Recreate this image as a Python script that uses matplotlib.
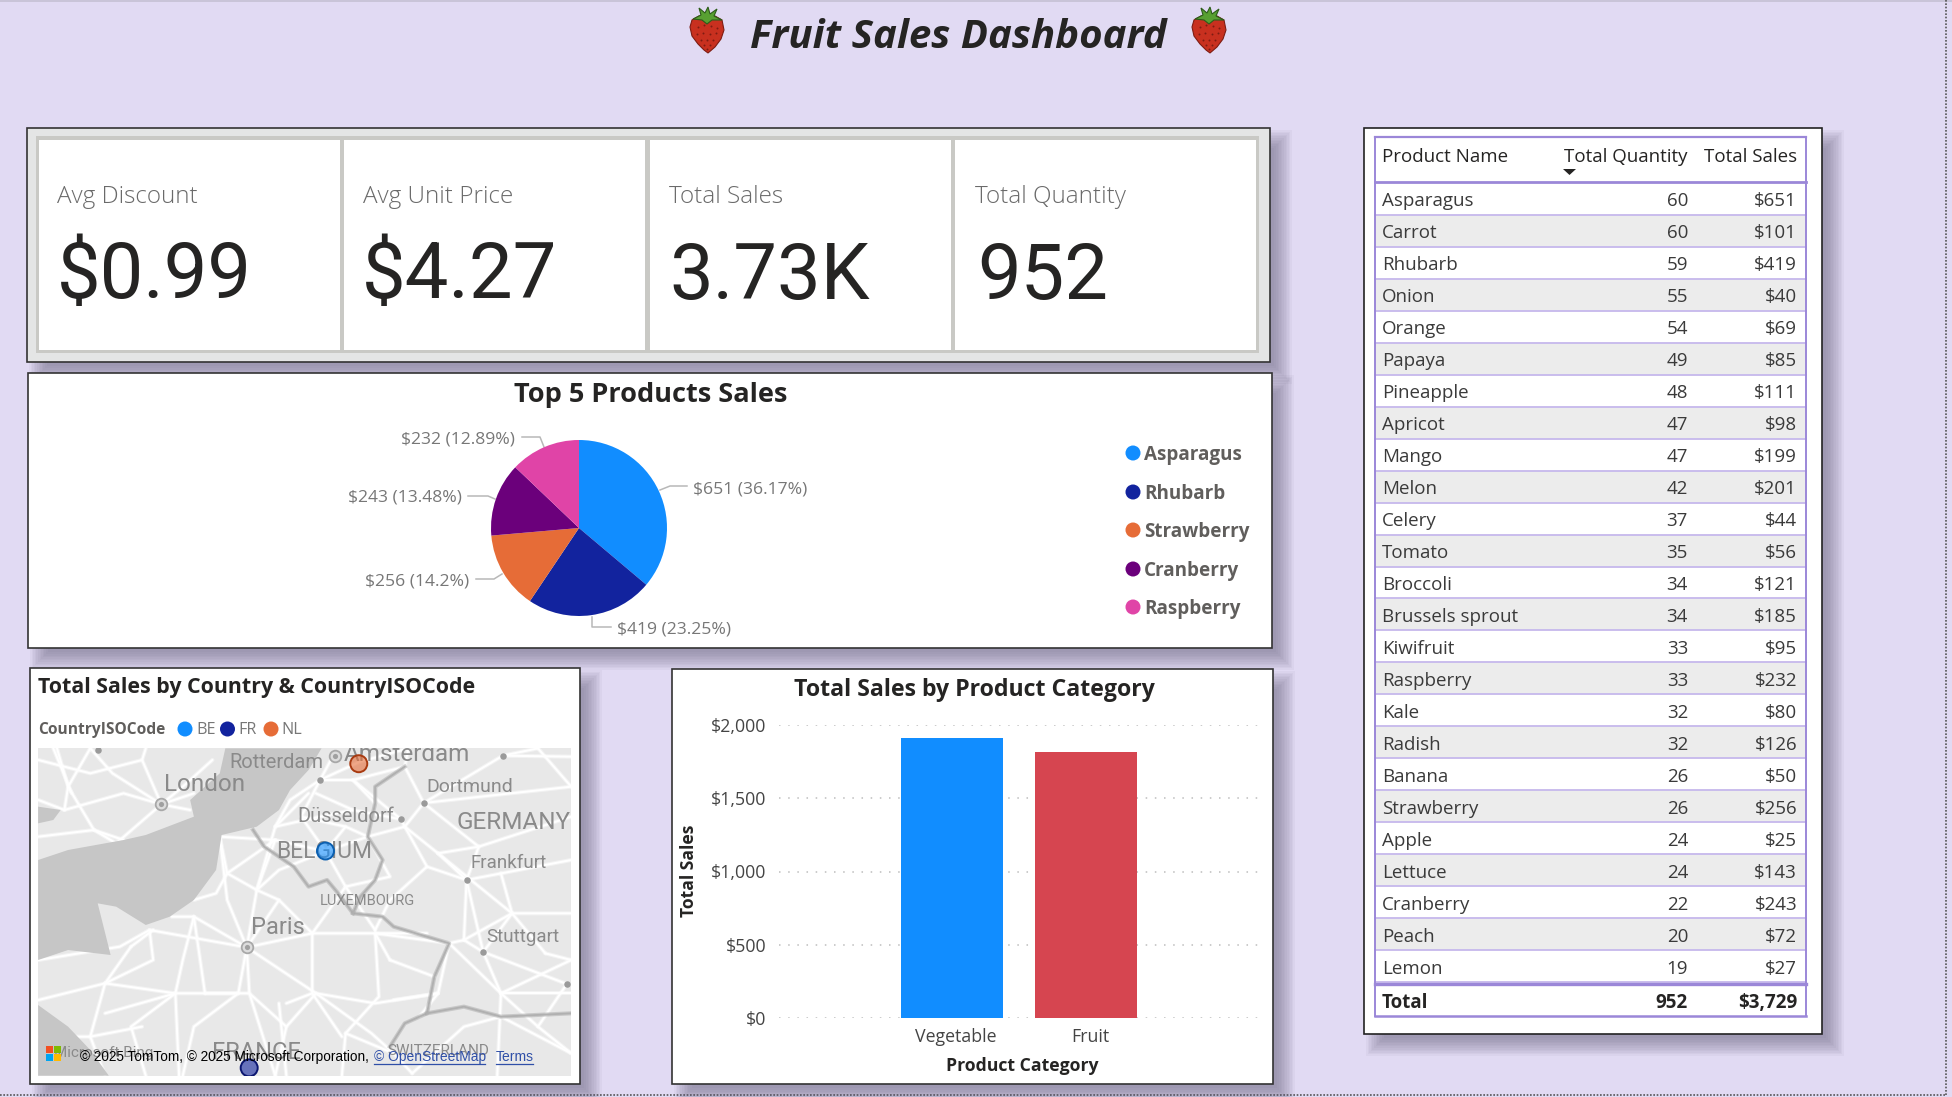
import numpy as np
import matplotlib
matplotlib.use("Agg")
import matplotlib.pyplot as plt
from matplotlib.patches import Rectangle, Circle, Polygon
from matplotlib.ticker import FuncFormatter

W, H = 1952, 1097
BG = '#E1DAF3'
DARK = '#252423'
GREY = '#605E5C'
UI = ['Open Sans', 'DejaVu Sans']
plt.rcParams['font.family'] = UI

# data
kpi_names = ['Avg Discount', 'Avg Unit Price', 'Total Sales', 'Total Quantity']
kpi_values = ['$0.99', '$4.27', '3.73K', '952']

top_products = ['Asparagus', 'Rhubarb', 'Strawberry', 'Cranberry', 'Raspberry']
top_sales = [651, 419, 256, 243, 232]
top_labels = ['$651 (36.17%)', '$419 (23.25%)', '$256 (14.2%)', '$243 (13.48%)', '$232 (12.89%)']

categories = ['Vegetable', 'Fruit']
category_sales = [1910, 1819]

country_codes = ['BE', 'FR', 'NL']
country_lon = [4.64, 2.44, 5.60]
country_lat = [50.63, 46.63, 52.24]

products = ['Asparagus', 'Carrot', 'Rhubarb', 'Onion', 'Orange', 'Papaya', 'Pineapple', 'Apricot',
            'Mango', 'Melon', 'Celery', 'Tomato', 'Broccoli', 'Brussels sprout', 'Kiwifruit',
            'Raspberry', 'Kale', 'Radish', 'Banana', 'Strawberry', 'Apple', 'Lettuce', 'Cranberry',
            'Peach', 'Lemon']
quantities = [60, 60, 59, 55, 54, 49, 48, 47, 47, 42, 37, 35, 34, 34, 33, 33, 32, 32, 26, 26, 24, 24, 22, 20, 19]
sales = [651, 101, 419, 40, 69, 85, 111, 98, 199, 201, 44, 56, 121, 185, 95, 232, 80, 126, 50, 256, 25, 143, 243, 72, 27]
total_quantity = '952'
total_sales = '$3,729'


def px_axes(x0, y0, x1, y1, **kw):
    return fig.add_axes([x0 / W, 1 - y1 / H, (x1 - x0) / W, (y1 - y0) / H], **kw)


def shadow(x0, y0, x1, y1):
    # soft drop shadow to the lower right
    for i in range(12):
        g = 10 - i * 1.6
        bg.add_patch(Rectangle((x0 + 12 - g, y0 + 12 - g), x1 - x0 + 2 * g, y1 - y0 + 2 * g,
                               fc='#5a5670', ec='none', alpha=0.05, zorder=1))


def panel(x0, y0, x1, y1, fc='white', ec='#333333'):
    shadow(x0, y0, x1, y1)
    bg.add_patch(Rectangle((x0, y0), x1 - x0, y1 - y0, fc=fc, ec=ec, lw=1.2, zorder=2))


def strawberry(cx, cy):
    t = np.array([(-15, -10), (-8, -14), (0, -13), (8, -14), (15, -10), (17, 0), (14, 9), (8, 17), (1, 23),
                  (-3, 20), (-9, 14), (-15, 6), (-17, -3)])
    bg.add_patch(Polygon(t + (cx, cy), fc='#C8301F', ec='#7d1c12', lw=0.8, zorder=4))
    leaf = np.array([(-14, -11), (-6, -15), (-8, -22), (-2, -17), (1, -23), (3, -16), (10, -21), (7, -14), (15, -10),
                     (5, -10), (0, -6), (-5, -10)])
    bg.add_patch(Polygon(leaf + (cx, cy), fc='#58A032', ec='#2d5c1a', lw=0.8, zorder=5))
    dx = np.array([-9, -3, 4, 10, -10, -4, 3, 9, -6, 0, 6, -3, 3, 0])
    dy = np.array([-3, -5, -4, -2, 4, 3, 4, 3, 10, 10, 10, 15, 15, 19])
    bg.scatter(cx + dx, cy + dy, s=2, color='#7d1c12', zorder=5, linewidths=0)


def zm(points):
    # points traced on the map crop, back to figure pixels
    p = np.array(points, dtype=float)
    return p[:, 0] / 2.703 + 20, p[:, 1] / 3 + 660


fig = plt.figure(figsize=(W / 100, H / 100), dpi=100, facecolor=BG)
bg = fig.add_axes([0, 0, 1, 1], zorder=0)
bg.set_xlim(0, W)
bg.set_ylim(H, 0)
bg.axis('off')

# page edges
bg.add_patch(Rectangle((0, 0), W, 2, fc='#C9C4D8', ec='none'))
bg.plot([0, 1946], [1095, 1095], color='#555555', lw=1.2, ls=(0, (1, 1)), zorder=1)
bg.plot([1946, 1946], [0, 1095], color='#555555', lw=1.2, ls=(0, (1, 1)), zorder=1)

# title
bg.text(958, 38, 'Fruit Sales Dashboard', fontsize=29, fontweight='bold', fontstyle='italic', color=DARK,
        ha='center', va='center', zorder=5)
strawberry(707, 30)
strawberry(1209, 30)

# kpi cards
panel(27, 128, 1270, 362, fc='#E4E5E5')
bg.add_patch(Rectangle((36, 136), 1223, 217, fc='#C9C9C5', ec='none', zorder=3))
card_x = [39, 344, 650, 955]
name_x = [57, 363, 669, 975]
value_x = [57, 362, 669, 977]
for i in range(4):
    bg.add_patch(Rectangle((card_x[i], 140), 301, 210, fc='white', ec='none', zorder=3))
    bg.text(name_x[i], 197, kpi_names[i], fontsize=17.5, color='#6a6a6a', va='center', zorder=4, fontweight='light')
    bg.text(value_x[i], 277, kpi_values[i], fontsize=56, color=DARK, va='center', zorder=4, family=['Roboto', 'DejaVu Sans'])

# pie panel
panel(28, 373, 1272, 648)
bg.text(651, 395, 'Top 5 Products Sales', fontsize=19.5, fontweight='bold', color=DARK, ha='center', va='center', zorder=4)
pie_colors = ['#118DFF', '#12239E', '#E66C37', '#6B007B', '#E044A7']
ax_pie = px_axes(491, 440, 667, 616, zorder=2)
ax_pie.pie(top_sales, colors=pie_colors, startangle=90, counterclock=False, radius=1)
ax_pie.set_xlim(-1, 1)
ax_pie.set_ylim(-1, 1)

label_x = [693, 617, 469, 462, 515]
label_ha = ['left', 'left', 'right', 'right', 'right']
label_y = [490, 629, 581, 498, 440]
leaders = [[(660, 490), (670, 486), (687, 486)], [(592, 617), (592, 627), (611, 627)],
           [(502, 574), (494, 579), (476, 579)], [(495, 499), (488, 496), (468, 496)],
           [(544, 447), (540, 437), (522, 437)]]
for i in range(5):
    bg.text(label_x[i], label_y[i], top_labels[i], fontsize=12.6, color='#777777', ha=label_ha[i], va='center', zorder=4)
    pts = np.array(leaders[i])
    bg.plot(pts[:, 0], pts[:, 1], color='#b8b8b8', lw=1.1, zorder=4)

legend_y = [453, 492, 530, 569, 607]
for i in range(5):
    bg.add_patch(Circle((1133, legend_y[i]), 7.5, fc=pie_colors[i], ec='none', zorder=4))
    bg.text(1144, legend_y[i] + 2, top_products[i], fontsize=13.6, fontweight='bold', color=GREY, va='center', zorder=4)

# map panel
panel(30, 668, 580, 1084)
bg.text(38, 687, 'Total Sales by Country & CountryISOCode', fontsize=15.4, fontweight='bold', color=DARK, va='center', zorder=4)
bg.text(38, 730, 'CountryISOCode', fontsize=11.2, fontweight='bold', color=GREY, va='center', zorder=4)
legend_cx = [185, 227.5, 271]
legend_tx = [196, 238, 281]
map_colors = ['#118DFF', '#12239E', '#E66C37']
for i in range(3):
    bg.add_patch(Circle((legend_cx[i], 729), 7.5, fc=map_colors[i], ec='none', zorder=4))
    bg.text(legend_tx[i], 730, country_codes[i], fontsize=11.6, color='#777777', va='center', zorder=4)

ax_base = px_axes(38, 748, 571, 1076, zorder=2)
ax_base.set_xlim(38, 571)
ax_base.set_ylim(1076, 748)
ax_base.axis('off')
ax_base.add_patch(Rectangle((38, 748), 533, 328, fc='#E8E8E8', ec='none', zorder=0))

roads = [
    [(382, 433), (250, 340), (190, 265)], [(382, 433), (280, 400), (120, 450), (50, 420)],
    [(382, 433), (330, 300), (340, 265)], [(382, 433), (260, 550), (200, 510), (50, 530)],
    [(382, 433), (470, 400)], [(613, 862), (470, 770), (410, 770)], [(613, 862), (560, 720), (540, 530)],
    [(613, 862), (640, 690), (690, 500), (780, 400)], [(613, 862), (790, 820), (960, 820), (1160, 850), (1200, 840)],
    [(613, 862), (800, 1000), (950, 1120), (1010, 1180)], [(613, 862), (590, 1000), (470, 1100), (440, 1247)],
    [(613, 862), (350, 810), (270, 860), (50, 900)], [(613, 862), (620, 1000), (690, 1247)],
    [(50, 1020), (230, 970), (420, 1000), (590, 1000)], [(230, 970), (300, 860)], [(230, 970), (190, 1130), (230, 1247)],
    [(420, 1000), (430, 1247)], [(790, 820), (790, 1000), (720, 1030)], [(960, 820), (970, 1010), (880, 1120), (870, 1247)],
    [(1160, 850), (1130, 1000), (1080, 1070)], [(1200, 840), (1252, 876), (1300, 1000), (1290, 1247)],
    [(1252, 876), (1478, 972)], [(1252, 876), (1207, 660), (1130, 580), (1040, 500), (1091, 429), (1305, 287), (1400, 265)],
    [(1207, 660), (1490, 600)], [(1207, 660), (1240, 560), (1490, 470)],
    [(1040, 500), (1030, 478), (900, 360), (811, 360), (917, 306), (1050, 265)],
    [(1040, 500), (940, 530), (826, 574), (690, 540), (540, 530)], [(826, 574), (760, 470), (811, 360)],
    [(826, 574), (880, 680), (960, 810)], [(690, 540), (640, 690)], [(1252, 876), (1330, 760), (1490, 760)],
    [(1091, 429), (1490, 380)], [(1490, 900), (1300, 1000)], [(1130, 1000), (960, 1030), (800, 1000)],
    [(1060, 1240), (1200, 1100), (1300, 1070)], [(1300, 1070), (1490, 1180)], [(1040, 500), (1100, 620), (1207, 660)],
    [(640, 690), (700, 630), (826, 574)], [(300, 860), (360, 810)], [(100, 265), (130, 380), (120, 450)],
    [(800, 400), (900, 450), (1030, 478)], [(700, 1030), (720, 1247)], [(1478, 972), (1400, 1100), (1490, 1180)],
    [(1040, 320), (1091, 429)], [(1130, 580), (1330, 760)], [(470, 770), (500, 1000)],
    # second pass, smaller roads
    [(50, 300), (190, 340), (330, 300)], [(190, 265), (130, 380), (200, 510)], [(382, 433), (440, 380), (520, 300)],
    [(382, 433), (460, 450)], [(200, 510), (280, 540)], [(90, 265), (140, 400)],
    [(540, 530), (560, 640), (640, 690)], [(470, 720), (530, 700), (560, 640), (690, 540)],
    [(350, 810), (360, 900), (230, 970)], [(470, 770), (440, 900), (420, 1000)], [(790, 820), (700, 720), (640, 690)],
    [(880, 680), (790, 820)], [(700, 720), (613, 862)], [(500, 1000), (620, 1000), (720, 1100), (800, 1000)],
    [(720, 1100), (690, 1247)], [(230, 1060), (420, 1000), (300, 1100), (340, 1247)], [(50, 1130), (190, 1130), (330, 1100)],
    [(880, 1120), (1010, 1180), (1060, 1240)], [(870, 1130), (790, 1000)], [(1000, 900), (960, 820), (1100, 820)],
    [(1000, 900), (1120, 950)], [(1010, 1020), (1130, 1000)], [(1100, 620), (1000, 720), (960, 810)],
    [(1207, 660), (1200, 840)], [(1300, 1000), (1490, 1000)], [(1400, 1100), (1300, 1000)], [(1330, 760), (1200, 840)],
    [(1130, 580), (1240, 560)], [(1091, 429), (1240, 560)], [(1400, 265), (1490, 380)], [(1305, 287), (1490, 290)],
    [(1330, 760), (1300, 640)], [(1420, 880), (1490, 900)], [(1420, 880), (1330, 760)], [(1160, 850), (1300, 1000)],
    [(690, 500), (811, 470), (900, 450)], [(826, 574), (880, 500), (940, 530)], [(811, 360), (730, 420), (690, 500)],
    [(900, 360), (1040, 320), (1050, 265)], [(900, 360), (960, 430)], [(811, 360), (850, 280)], [(760, 470), (880, 500)],
    [(940, 530), (1000, 650), (880, 680)],
]
for r in roads:
    ax_base.plot(*zm(r), color='white', lw=3, alpha=0.45, solid_joinstyle='round', solid_capstyle='round', zorder=2)
    ax_base.plot(*zm(r), color='white', lw=1.5, solid_joinstyle='round', solid_capstyle='round', zorder=2)

# water goes over the roads so nothing runs across the sea
sea = [(555, 265), (815, 265), (780, 330), (730, 390), (700, 450), (640, 500), (545, 525), (530, 630), (470, 720),
       (405, 770), (340, 795), (260, 740), (210, 730), (245, 885), (130, 870), (49, 900), (49, 600), (130, 570),
       (280, 540), (340, 525), (470, 470), (460, 420), (540, 340)]
ax_base.fill(*zm(sea), color='#C6C6C6', lw=0, zorder=2.5)
ax_base.fill(*zm([(49, 440), (110, 450), (90, 480), (49, 490)]), color='#C6C6C6', lw=0, zorder=2.5)
ax_base.fill(*zm([(49, 1035), (130, 1100), (190, 1170), (240, 1247), (49, 1247)]), color='#C6C6C6', lw=0, zorder=2.5)

borders = [
    [(630, 510), (660, 560), (740, 620), (780, 680), (830, 660), (860, 700), (900, 760), (980, 770), (1010, 800),
     (1160, 850), (1120, 950), (1100, 1060), (1040, 1090), (1000, 1160)],
    [(1040, 320), (960, 380), (960, 430), (940, 530), (980, 600), (960, 660), (920, 710), (900, 760)],
    [(1100, 1060), (1200, 1040), (1300, 1070), (1490, 1060)],
]
for b in borders:
    ax_base.plot(*zm(b), color='#A8A8A8', lw=3, alpha=0.5, solid_joinstyle='round', zorder=3)
    ax_base.plot(*zm(b), color='#B0B0B0', lw=1.3, solid_joinstyle='round', zorder=3)

dots = [(1091, 429), (1030, 478), (1207, 660), (1252, 876), (1478, 972), (1305, 287), (811, 360), (212, 270)]
ax_base.scatter(*zm(dots), s=22, color='#9a9a9a', linewidths=0, zorder=4)
rings = [(382, 433), (613, 862), (852, 288)]
ax_base.scatter(*zm(rings), s=70, facecolor='#dddddd', edgecolor='#a8a8a8', linewidths=1.3, zorder=4)
ax_base.scatter(*zm(rings), s=14, color='#a0a0a0', linewidths=0, zorder=5)

ROBOTO = ['Roboto', 'DejaVu Sans']
map_text = [('Amsterdam', 1045, 283, 17.5), ('Rotterdam', 692, 307, 14.5), ('London', 498, 373, 17.5),
            ('Dortmund', 1215, 380, 14), ('Düsseldorf', 880, 470, 14.5), ('GERMANY', 1335, 488, 17.5),
            ('BELGIUM', 823, 573, 16.5), ('Frankfurt', 1320, 610, 13.5), ('LUXEMBOURG', 938, 722, 10.5),
            ('Paris', 697, 803, 17), ('Stuttgart', 1358, 830, 13.5), ('FRANCE', 640, 1178, 17),
            ('SWITZERLAND', 1130, 1172, 11), ('Microsoft Bing', 225, 1180, 11)]
for name, zx, zy, fs in map_text:
    ax_base.text(zx / 2.703 + 20, zy / 3 + 660, name, fontsize=fs, color='#8a8a8a', ha='center', va='center',
                 family=ROBOTO, zorder=6, clip_on=True)

# logo
for (lx, ly, c) in [(46, 1046, '#F25022'), (54, 1046, '#7FBA00'), (46, 1054, '#00A4EF'), (54, 1054, '#FFB900')]:
    ax_base.add_patch(Rectangle((lx, ly), 7.4, 7.4, fc=c, ec='none', zorder=6))

# bubbles in lon / lat
ax_geo = px_axes(38, 748, 571, 1076, zorder=3)
ax_geo.set_xlim(-3.65, 11.72)
ax_geo.set_ylim(46.48, 52.53)
ax_geo.axis('off')
edge_colors = ['#0B5FB0', '#0B1670', '#A83A10']
ax_geo.scatter(country_lon, country_lat, s=150, c=map_colors, alpha=0.6, linewidths=0, zorder=3)
ax_geo.scatter(country_lon, country_lat, s=150, facecolors='none', edgecolors=edge_colors, linewidths=1.4, zorder=3)

ARIAL = ['Liberation Sans', 'DejaVu Sans']
ax_geo.text(80, 1057, '© 2025 TomTom, © 2025 Microsoft Corporation,', transform=bg.transData, fontsize=9.8,
            color='black', va='center', family=ARIAL, zorder=7)
ax_geo.text(374, 1057, '© OpenStreetMap', transform=bg.transData, fontsize=10, color='#2F4FA8', va='center',
            family=ARIAL, zorder=7)
ax_geo.text(496, 1057, 'Terms', transform=bg.transData, fontsize=10, color='#2F4FA8', va='center', family=ARIAL, zorder=7)
ax_base.plot([374, 485], [1064, 1064], color='#2F4FA8', lw=0.9, zorder=7)
ax_base.plot([496, 533], [1064, 1064], color='#2F4FA8', lw=0.9, zorder=7)

# bar panel
panel(672, 669, 1273, 1084)
bg.text(974, 690, 'Total Sales by Product Category', fontsize=16.7, fontweight='bold', color=DARK, ha='center', va='center', zorder=4)
ax_bar = px_axes(779, 725, 1261, 1018, zorder=2)
ax_bar.patch.set_alpha(0)
ax_bar.bar(range(2), category_sales, width=0.76, color=['#118DFF', '#D64550'], zorder=3)
ax_bar.set_xlim(-1.291, 2.306)
ax_bar.set_ylim(0, 2000)
ax_bar.set_yticks([0, 500, 1000, 1500, 2000])
ax_bar.yaxis.set_major_formatter(FuncFormatter(lambda v, p: f'${v:,.0f}'))
ax_bar.set_xticks([0.03, 1.03])
ax_bar.set_xticklabels(categories)
ax_bar.tick_params(length=0, labelsize=12.8, labelcolor='#444444')
ax_bar.tick_params(axis='y', pad=9)
ax_bar.tick_params(axis='x', pad=7)
ax_bar.grid(axis='y', color='#BDBDBD', lw=1.1, ls=(0, (1, 5)), zorder=0)
for s in ax_bar.spines.values():
    s.set_visible(False)
bg.text(689, 871, 'Total Sales', fontsize=12.6, fontweight='bold', color=DARK, rotation=90, ha='center', va='center', zorder=4)
bg.text(1022, 1066, 'Product Category', fontsize=12.7, fontweight='bold', color=DARK, ha='center', va='center', zorder=4)

# table
panel(1364, 128, 1822, 1034, ec='#222222')
tx0, tx1 = 1375, 1806
T_LINE = '#9B87D8'
ROW_LINE = '#C6B8EC'
row_top = 183
row_h = 31.96
TXT = 13.5
for i in range(len(products)):
    y0 = row_top + i * row_h
    if i % 2 == 1:
        bg.add_patch(Rectangle((tx0, y0), tx1 - tx0, row_h, fc='#ECECEC', ec='none', zorder=3))
    yc = y0 + row_h / 2 + 2.5
    bg.text(1382, yc, products[i], fontsize=TXT, color='#3a3a3a', va='center', zorder=5)
    bg.text(1688, yc, str(quantities[i]), fontsize=TXT, color='#3a3a3a', va='center', ha='right', zorder=5)
    bg.text(1797, yc, f'${sales[i]}', fontsize=TXT, color='#3a3a3a', va='center', ha='right', zorder=5)
    bg.plot([tx0, tx1], [y0 + row_h, y0 + row_h], color=ROW_LINE, lw=1.3, zorder=4)

bg.text(1382, 157, 'Product Name', fontsize=TXT, color=DARK, va='center', zorder=5)
bg.text(1687, 157, 'Total Quantity', fontsize=TXT, color=DARK, va='center', ha='right', zorder=5)
bg.text(1797, 157, 'Total Sales', fontsize=TXT, color=DARK, va='center', ha='right', zorder=5)
bg.add_patch(Polygon([(1563, 169), (1576, 169), (1569.5, 175)], fc=DARK, ec='none', zorder=5))
bg.plot([tx0, tx1], [137, 137], color=T_LINE, lw=1.6, zorder=4)
bg.plot([tx0, tx1], [182, 182], color=T_LINE, lw=2, zorder=4)
bg.plot([tx0, tx1], [984, 984], color=T_LINE, lw=2.4, zorder=4)
bg.plot([tx0, tx1], [1016, 1016], color=T_LINE, lw=1.8, zorder=4)
bg.plot([tx0, tx0], [137, 1016], color=T_LINE, lw=1.4, zorder=4)
bg.plot([tx1, tx1], [137, 1016], color=T_LINE, lw=1.4, zorder=4)
bg.text(1382, 1003, 'Total', fontsize=TXT, fontweight='bold', color=DARK, va='center', zorder=5)
bg.text(1688, 1003, total_quantity, fontsize=TXT, fontweight='bold', color=DARK, va='center', ha='right', zorder=5)
bg.text(1797, 1003, total_sales, fontsize=TXT, fontweight='bold', color=DARK, va='center', ha='right', zorder=5)

fig.savefig('out.png', dpi=100, facecolor=BG)
